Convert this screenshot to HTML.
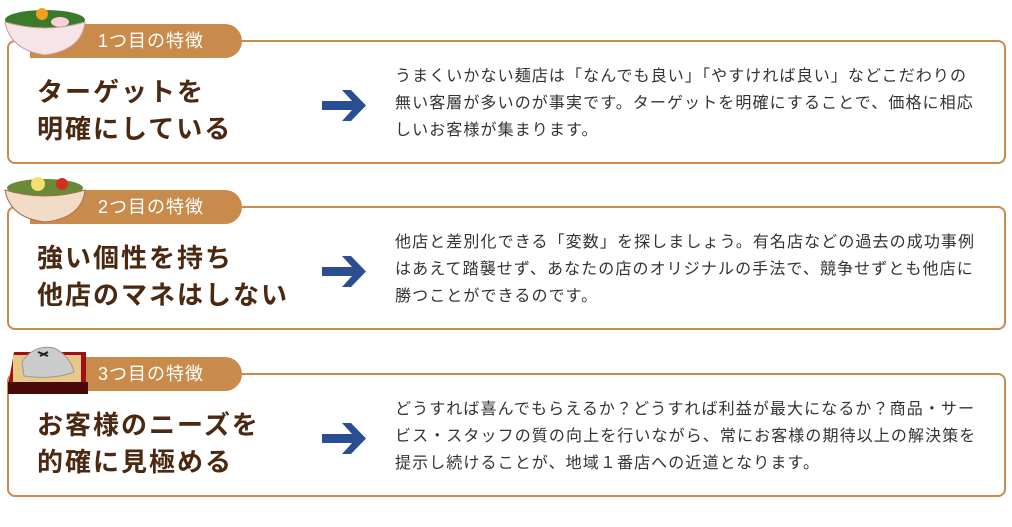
<!DOCTYPE html>
<html><head><meta charset="utf-8"><style>
body{margin:0;width:1012px;height:527px;background:#fff;position:relative;overflow:hidden;font-family:"Liberation Sans","Noto Sans CJK JP",sans-serif}
.panel{position:absolute;left:7px;width:999px;height:124px;border:2px solid #c98b4b;border-radius:8px;box-sizing:border-box}
.tab{position:absolute;left:30px;width:212px;height:34px;background:#c98b4b;border-radius:0 17px 17px 0;color:#fff;font-size:18px;line-height:34px;padding-left:68px;box-sizing:border-box;letter-spacing:1px}
.h{position:absolute;left:37px;font-size:26px;font-weight:bold;color:#4a2812;line-height:37px;letter-spacing:2px}
.t{position:absolute;left:395px;font-size:16px;color:#333;line-height:27px;letter-spacing:1.1px;width:610px;white-space:nowrap}
.ar{position:absolute;left:322px}
.ic{position:absolute;left:2px}
</style></head><body>
<div class="panel" style="top:40px"></div>
<div class="tab" style="top:24px">1つ目の特徴</div>
<div class="h" style="top:74px">ターゲットを<br>明確にしている</div>
<svg class="ar" style="top:88px" width="46" height="35"><path d="M0 13h30L20 2h9l15 15.5L29 33h-9l10-11H0z" fill="#2b4e93"/></svg>
<div class="t" style="top:63px">うまくいかない麺店は「なんでも良い」「やすければ良い」などこだわりの<br>無い客層が多いのが事実です。ターゲットを明確にすることで、価格に相応<br>しいお客様が集まります。</div>
<svg class="ic" style="top:0" width="90" height="58"><ellipse cx="43" cy="20" rx="40" ry="10" fill="#3a7a2a"/><circle cx="40" cy="14" r="6" fill="#f2a020"/><ellipse cx="58" cy="22" rx="9" ry="5" fill="#f7d0d8"/><path d="M3 22Q43 34 83 22Q80 50 43 55Q8 50 3 22z" fill="#f7e4e6" stroke="#c9a0a0"/></svg>

<div class="panel" style="top:206px"></div>
<div class="tab" style="top:190px">2つ目の特徴</div>
<div class="h" style="top:240px">強い個性を持ち<br>他店のマネはしない</div>
<svg class="ar" style="top:254px" width="46" height="35"><path d="M0 13h30L20 2h9l15 15.5L29 33h-9l10-11H0z" fill="#2b4e93"/></svg>
<div class="t" style="top:229px">他店と差別化できる「変数」を探しましょう。有名店などの過去の成功事例<br>はあえて踏襲せず、あなたの店のオリジナルの手法で、競争せずとも他店に<br>勝つことができるのです。</div>
<svg class="ic" style="top:170px" width="90" height="56"><ellipse cx="43" cy="18" rx="38" ry="9" fill="#6a8a3a"/><circle cx="36" cy="14" r="7" fill="#f4e070"/><circle cx="60" cy="14" r="6" fill="#d03020"/><path d="M3 20Q43 32 83 20Q80 48 43 52Q8 48 3 20z" fill="#f2dcc8" stroke="#a07050"/></svg>

<div class="panel" style="top:373px"></div>
<div class="tab" style="top:357px">3つ目の特徴</div>
<div class="h" style="top:407px">お客様のニーズを<br>的確に見極める</div>
<svg class="ar" style="top:421px" width="46" height="35"><path d="M0 13h30L20 2h9l15 15.5L29 33h-9l10-11H0z" fill="#2b4e93"/></svg>
<div class="t" style="top:396px">どうすれば喜んでもらえるか？どうすれば利益が最大になるか？商品・サー<br>ビス・スタッフの質の向上を行いながら、常にお客様の期待以上の解決策を<br>提示し続けることが、地域１番店への近道となります。</div>
<svg class="ic" style="top:342px;left:4px" width="84" height="52"><path d="M10 10h72v34H4z" fill="#a01018"/><rect x="9" y="13" width="68" height="28" fill="#e8c888"/><rect x="4" y="40" width="82" height="12" fill="#4a0a0a"/><path d="M18 20Q30 2 50 6Q66 14 70 30Q50 38 20 34z" fill="#ccc" stroke="#999"/><path d="M34 10l10 4M36 14l8-4" stroke="#222" stroke-width="2"/></svg>
</body></html>
